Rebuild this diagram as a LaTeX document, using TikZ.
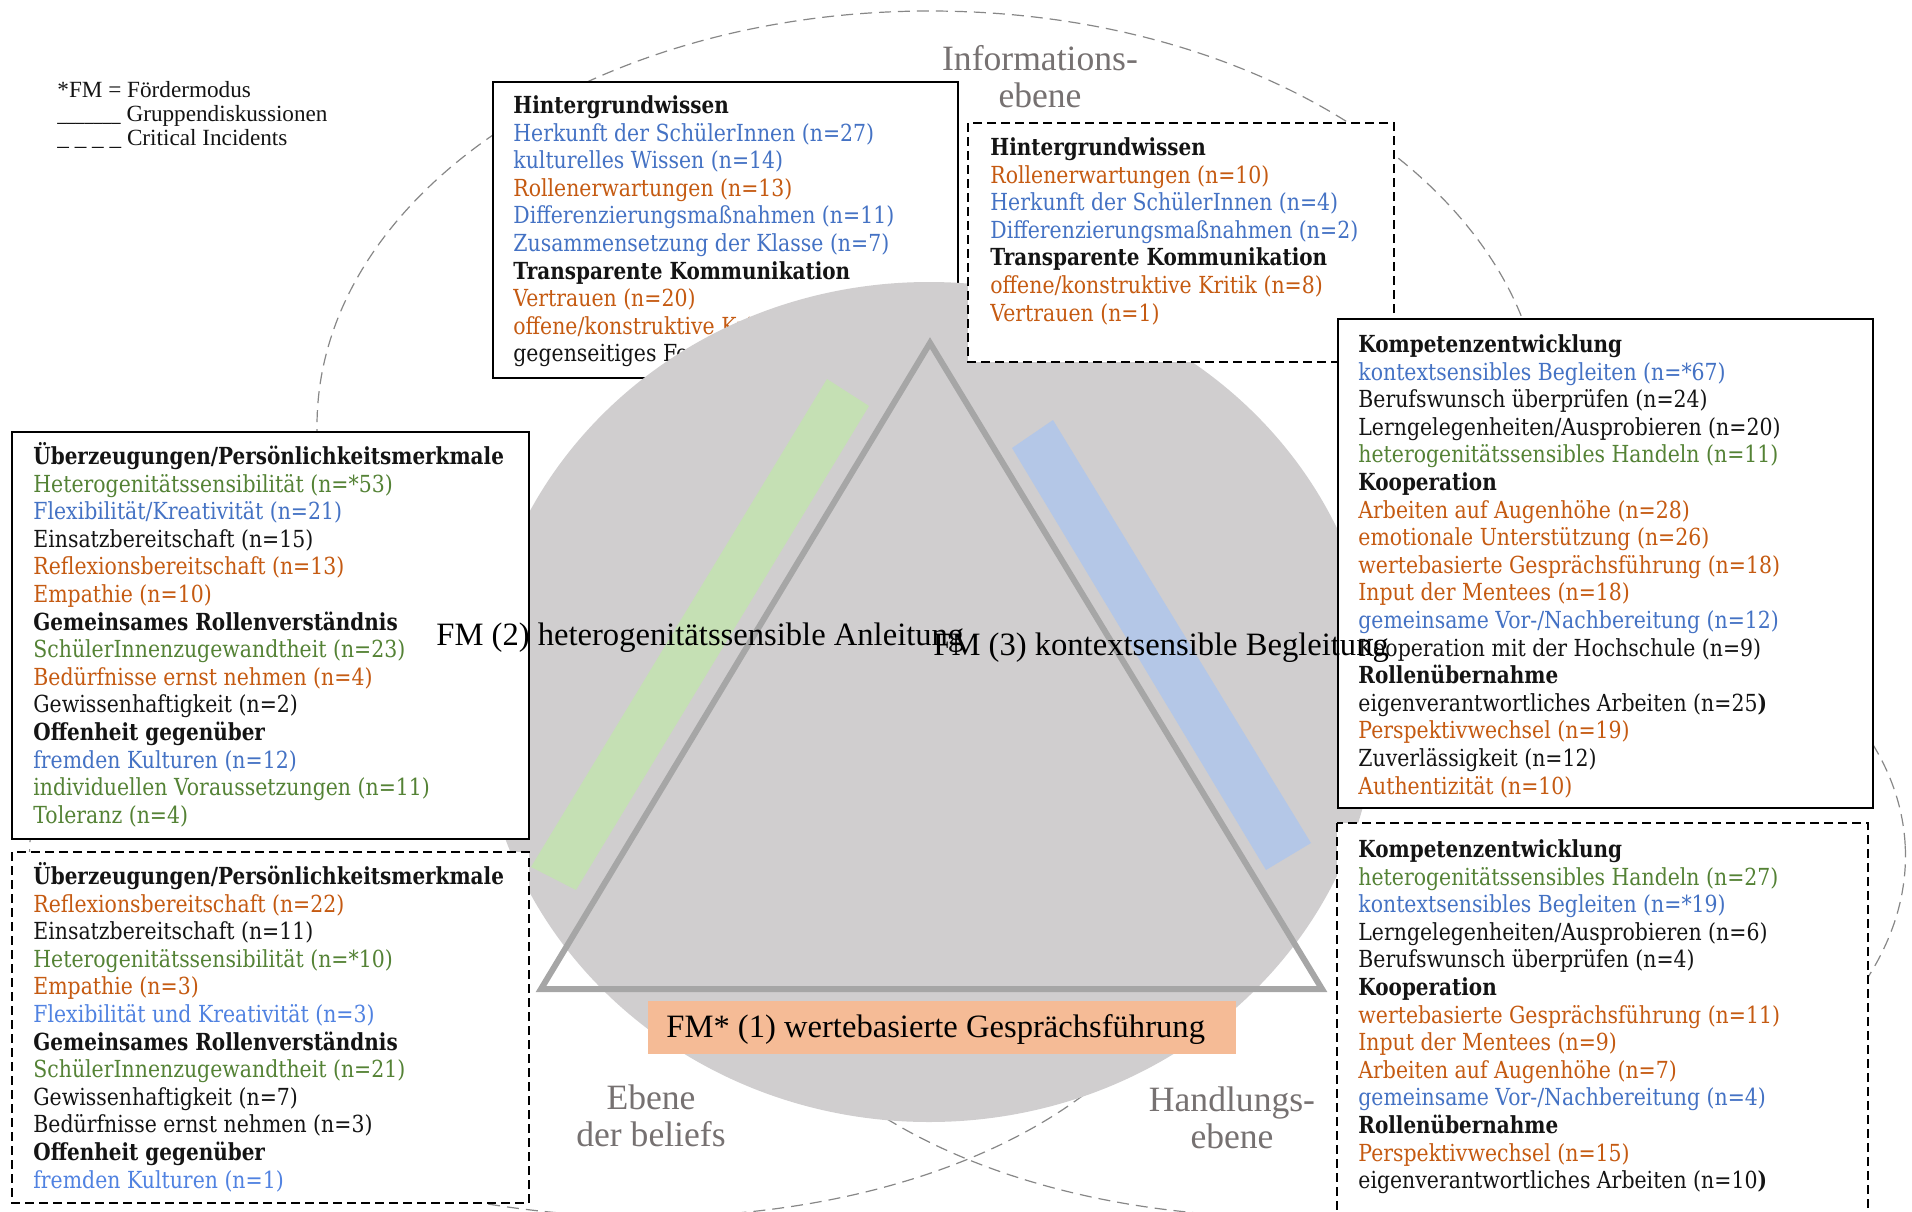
\documentclass[tikz,border=0pt]{standalone}
\usepackage{fontspec}
\setmainfont{Liberation Serif}
\newfontfamily\slabfont[FakeStretch=0.87, BoldFeatures={FakeStretch=0.85}]{DejaVu Serif}

\definecolor{tblue}{RGB}{68,114,196}
\definecolor{tblueL}{RGB}{80,130,225}
\definecolor{torange}{RGB}{197,90,17}
\definecolor{tgreen}{RGB}{84,130,53}
\definecolor{tblack}{RGB}{20,20,20}
\definecolor{circlegray}{RGB}{208,206,207}
\definecolor{trigray}{RGB}{166,166,166}
\definecolor{bandgreen}{RGB}{197,224,180}
\definecolor{bandblue}{RGB}{180,199,231}
\definecolor{fmorange}{RGB}{245,187,150}
\definecolor{levelgray}{RGB}{118,113,113}
\definecolor{venngray}{RGB}{135,135,135}

% line markup inside the text boxes
\newcommand\txH[1]{\textbf{#1}}
\newcommand\txB[1]{\textcolor{tblue}{#1}}
\newcommand\txL[1]{\textcolor{tblueL}{#1}}
\newcommand\txO[1]{\textcolor{torange}{#1}}
\newcommand\txG[1]{\textcolor{tgreen}{#1}}
\newcommand\firststrut{\rule{0pt}{11pt}}

\begin{document}
\begin{tikzpicture}[x=0.5pt,y=-0.5pt,
  venn/.style={draw=venngray, line width=0.6pt, dash pattern=on 6pt off 3.5pt},
  solidbox/.style={draw=black, fill=white, line width=1.1pt},
  dashbox/.style={draw=black, fill=white, line width=1.1pt, dash pattern=on 4.5pt off 2.5pt},
  boxtext/.style={font=\slabfont\fontsize{11.75}{13.8}\selectfont, align=left,
    anchor=north west, inner sep=0pt, text=tblack},
  fmlabel/.style={font=\fontsize{16.3}{19}\selectfont, inner sep=0pt, text=black, anchor=base west},
  level/.style={font=\fontsize{17.8}{18.5}\selectfont, text=levelgray, align=center, inner sep=0pt},
  legend/.style={font=\fontsize{11.6}{12}\selectfont, inner sep=0pt, anchor=base west, text=tblack}
]
\useasboundingbox (0,0) rectangle (1912,1211);
\clip (0,0) rectangle (1912,1211);

% the three levels (dashed ellipses)
\draw[venn] (930,426) ellipse [x radius=613, y radius=415];
\draw[venn, rotate around={3:(1321,876)}] (1321,876) ellipse [x radius=585, y radius=340];
\draw[venn, rotate around={-3:(614,876)}] (614,876) ellipse [x radius=585, y radius=340];

% group discussions: background knowledge
\draw[solidbox] (493,82) rectangle (958,378);
\node[boxtext] (gdinfo) at (513,91) {\firststrut\txH{Hintergrundwissen}\\
\txB{Herkunft der SchülerInnen (n=27)}\\
\txB{kulturelles Wissen (n=14)}\\
\txO{Rollenerwartungen (n=13)}\\
\txB{Differenzierungsmaßnahmen (n=11)}\\
\txB{Zusammensetzung der Klasse (n=7)}\\
\txH{Transparente Kommunikation}\\
\txO{Vertrauen (n=20)}\\
\txO{offene/konstruktive Kritik}\\
gegenseitiges Feedback};

% central disc with the triangle of support modes
\fill[circlegray] (929,702) ellipse [x radius=448, y radius=420];
\fill[bandgreen] (827,379) -- (869,406) -- (576,890) -- (531,867) -- cycle;
\fill[bandblue] (1012,448) -- (1053,420) -- (1311,843) -- (1266,870) -- cycle;
\draw[trigray, line width=3pt, line join=miter] (930,343) -- (1322,989) -- (541,989) -- cycle;
\fill[fmorange] (648,1001) rectangle (1236,1054);

% critical incidents: background knowledge
\draw[dashbox] (968,123) rectangle (1394,362);
\node[boxtext] (ciinfo) at (990,133) {\firststrut\txH{Hintergrundwissen}\\
\txO{Rollenerwartungen (n=10)}\\
\txB{Herkunft der SchülerInnen (n=4)}\\
\txB{Differenzierungsmaßnahmen (n=2)}\\
\txH{Transparente Kommunikation}\\
\txO{offene/konstruktive Kritik (n=8)}\\
\txO{Vertrauen (n=1)}};

% group discussions: beliefs
\draw[solidbox] (12,432) rectangle (529,839);
\node[boxtext] (gdbelief) at (33,442) {\firststrut\txH{Überzeugungen/Persönlichkeitsmerkmale}\\
\txG{Heterogenitätssensibilität (n=*53)}\\
\txB{Flexibilität/Kreativität (n=21)}\\
Einsatzbereitschaft (n=15)\\
\txO{Reflexionsbereitschaft (n=13)}\\
\txO{Empathie (n=10)}\\
\txH{Gemeinsames Rollenverständnis}\\
\txG{SchülerInnenzugewandtheit (n=23)}\\
\txO{Bedürfnisse ernst nehmen (n=4)}\\
Gewissenhaftigkeit (n=2)\\
\txH{Offenheit gegenüber}\\
\txB{fremden Kulturen (n=12)}\\
\txG{individuellen Voraussetzungen (n=11)}\\
\txG{Toleranz (n=4)}};

% critical incidents: beliefs
\draw[dashbox] (12,852) rectangle (529,1203);
\node[boxtext] (cibelief) at (33,862) {\firststrut\txH{Überzeugungen/Persönlichkeitsmerkmale}\\
\txO{Reflexionsbereitschaft (n=22)}\\
Einsatzbereitschaft (n=11)\\
\txG{Heterogenitätssensibilität (n=*10)}\\
\txO{Empathie (n=3)}\\
\txL{Flexibilität und Kreativität (n=3)}\\
\txH{Gemeinsames Rollenverständnis}\\
\txG{SchülerInnenzugewandtheit (n=21)}\\
Gewissenhaftigkeit (n=7)\\
Bedürfnisse ernst nehmen (n=3)\\
\txH{Offenheit gegenüber}\\
\txL{fremden Kulturen (n=1)}};

% group discussions: action
\draw[solidbox] (1338,319) rectangle (1873,808);
\node[boxtext] (gdaction) at (1358,330) {\firststrut\txH{Kompetenzentwicklung}\\
\txB{kontextsensibles Begleiten (n=*67)}\\
Berufswunsch überprüfen (n=24)\\
Lerngelegenheiten/Ausprobieren (n=20)\\
\txG{heterogenitätssensibles Handeln (n=11)}\\
\txH{Kooperation}\\
\txO{Arbeiten auf Augenhöhe (n=28)}\\
\txO{emotionale Unterstützung (n=26)}\\
\txO{wertebasierte Gesprächsführung (n=18)}\\
\txO{Input der Mentees (n=18)}\\
\txB{gemeinsame Vor-/Nachbereitung (n=12)}\\
Kooperation mit der Hochschule (n=9)\\
\txH{Rollenübernahme}\\
eigenverantwortliches Arbeiten (n=25\textbf{)}\\
\txO{Perspektivwechsel (n=19)}\\
Zuverlässigkeit (n=12)\\
\txO{Authentizität (n=10)}};

% critical incidents: action
\draw[dashbox] (1337,823) rectangle (1868,1240);
\node[boxtext] (ciaction) at (1358,835) {\firststrut\txH{Kompetenzentwicklung}\\
\txG{heterogenitätssensibles Handeln (n=27)}\\
\txB{kontextsensibles Begleiten (n=*19)}\\
Lerngelegenheiten/Ausprobieren (n=6)\\
Berufswunsch überprüfen (n=4)\\
\txH{Kooperation}\\
\txO{wertebasierte Gesprächsführung (n=11)}\\
\txO{Input der Mentees (n=9)}\\
\txO{Arbeiten auf Augenhöhe (n=7)}\\
\txB{gemeinsame Vor-/Nachbereitung (n=4)}\\
\txH{Rollenübernahme}\\
\txO{Perspektivwechsel (n=15)}\\
eigenverantwortliches Arbeiten (n=10\textbf{)}};

% support modes
\node[fmlabel] (fm2) at (436,645) {FM (2) heterogenitätssensible Anleitung};
\node[fmlabel] (fm3) at (933,655) {FM (3) kontextsensible Begleitung};
\node[fmlabel] (fm1) at (666,1037) {FM* (1) wertebasierte Gesprächsführung};

% level names
\node[level] (lvinfo) at (1040,77) {Informations-\\ebene};
\node[level] (lvbelief) at (651,1116) {Ebene\\der beliefs};
\node[level] (lvaction) at (1232,1118) {Handlungs-\\ebene};

% legend
\node[legend] (lg1) at (57,97) {*FM = Fördermodus};
\node[legend] (lg2) at (57,121) {\scalebox{0.78}[1]{\_\_\_\_\_\_\_} Gruppendiskussionen};
\node[legend] (lg3) at (57,145) {\_ \_ \_ \_ Critical Incidents};
\end{tikzpicture}
\end{document}
